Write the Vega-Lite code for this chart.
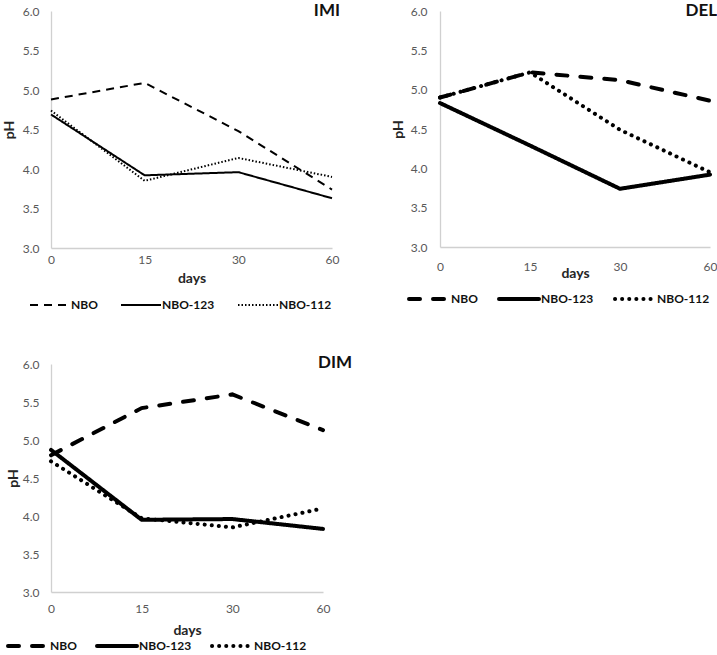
{
  "$schema": "https://vega.github.io/schema/vega-lite/v6.json",
  "padding": {"left": 2, "top": 2, "right": 0, "bottom": 0},
  "background": "white",
  "datasets": {
    "ph": [
      {"panel": "IMI", "series": "NBO", "day": 0, "pH": 4.88},
      {"panel": "IMI", "series": "NBO", "day": 15, "pH": 5.09},
      {"panel": "IMI", "series": "NBO", "day": 30, "pH": 4.48},
      {"panel": "IMI", "series": "NBO", "day": 60, "pH": 3.74},
      {"panel": "IMI", "series": "NBO-123", "day": 0, "pH": 4.69},
      {"panel": "IMI", "series": "NBO-123", "day": 15, "pH": 3.92},
      {"panel": "IMI", "series": "NBO-123", "day": 30, "pH": 3.96},
      {"panel": "IMI", "series": "NBO-123", "day": 60, "pH": 3.63},
      {"panel": "IMI", "series": "NBO-112", "day": 0, "pH": 4.74},
      {"panel": "IMI", "series": "NBO-112", "day": 15, "pH": 3.85},
      {"panel": "IMI", "series": "NBO-112", "day": 30, "pH": 4.14},
      {"panel": "IMI", "series": "NBO-112", "day": 60, "pH": 3.90},
      {"panel": "DEL", "series": "NBO", "day": 0, "pH": 4.90},
      {"panel": "DEL", "series": "NBO", "day": 15, "pH": 5.22},
      {"panel": "DEL", "series": "NBO", "day": 30, "pH": 5.12},
      {"panel": "DEL", "series": "NBO", "day": 60, "pH": 4.86},
      {"panel": "DEL", "series": "NBO-123", "day": 0, "pH": 4.83},
      {"panel": "DEL", "series": "NBO-123", "day": 15, "pH": 4.29},
      {"panel": "DEL", "series": "NBO-123", "day": 30, "pH": 3.74},
      {"panel": "DEL", "series": "NBO-123", "day": 60, "pH": 3.92},
      {"panel": "DEL", "series": "NBO-112", "day": 0, "pH": 4.90},
      {"panel": "DEL", "series": "NBO-112", "day": 15, "pH": 5.22},
      {"panel": "DEL", "series": "NBO-112", "day": 30, "pH": 4.49},
      {"panel": "DEL", "series": "NBO-112", "day": 60, "pH": 3.95},
      {"panel": "DIM", "series": "NBO", "day": 0, "pH": 4.80},
      {"panel": "DIM", "series": "NBO", "day": 15, "pH": 5.42},
      {"panel": "DIM", "series": "NBO", "day": 30, "pH": 5.60},
      {"panel": "DIM", "series": "NBO", "day": 60, "pH": 5.13},
      {"panel": "DIM", "series": "NBO-123", "day": 0, "pH": 4.87},
      {"panel": "DIM", "series": "NBO-123", "day": 15, "pH": 3.95},
      {"panel": "DIM", "series": "NBO-123", "day": 30, "pH": 3.96},
      {"panel": "DIM", "series": "NBO-123", "day": 60, "pH": 3.83},
      {"panel": "DIM", "series": "NBO-112", "day": 0, "pH": 4.72},
      {"panel": "DIM", "series": "NBO-112", "day": 15, "pH": 3.97},
      {"panel": "DIM", "series": "NBO-112", "day": 30, "pH": 3.85},
      {"panel": "DIM", "series": "NBO-112", "day": 60, "pH": 4.10}
    ]
  },
  "config": {
    "font": "Lato",
    "view": {"stroke": null},
    "axis": {
      "grid": false,
      "ticks": false,
      "domainColor": "#d0d0d0",
      "domainWidth": 1.3,
      "labelColor": "#595959",
      "labelFont": "Lato",
      "labelFontSize": 12,
      "titleFont": "Lato",
      "titleFontWeight": "bold",
      "titleFontSize": 14,
      "titleColor": "#262626"
    },
    "legend": {
      "labelFont": "Lato",
      "labelFontWeight": "bold",
      "labelFontSize": 12,
      "labelColor": "#111111",
      "symbolStrokeColor": "black",
      "layout": {"bottom": {"anchor": "end"}}
    },
    "title": {"font": "Lato", "fontSize": 17, "fontWeight": "bold", "color": "#111111", "anchor": "end", "frame": "group"}
  },
  "concat": [
    {
      "spacing": 51,
      "resolve": {"scale": {"strokeDash": "independent"}, "legend": {"strokeDash": "independent"}},
      "hconcat": [
        {
          "width": 281,
          "height": 237,
          "title": {"text": "IMI", "offset": -15, "dx": 8},
          "data": {"name": "ph"},
          "transform": [{"filter": "datum.panel === 'IMI'"}],
          "mark": {"type": "line", "strokeWidth": 2, "color": "black"},
          "encoding": {
            "x": {"field": "day", "type": "ordinal", "scale": {"type": "point", "padding": 0},
                  "axis": {"title": "days", "labelAngle": 0, "labelPadding": 6, "titlePadding": 6}},
            "y": {"field": "pH", "type": "quantitative", "scale": {"domain": [3, 6]},
                  "axis": {"values": [3, 3.5, 4, 4.5, 5, 5.5, 6], "format": ".1f", "labelPadding": 12, "titlePadding": 6}},
            "strokeDash": {"field": "series", "type": "nominal",
              "scale": {"domain": ["NBO", "NBO-123", "NBO-112"], "range": [[8, 6], [1, 0], [1.5, 2]]},
              "legend": {"title": null, "orient": "bottom", "direction": "horizontal", "symbolType": "stroke",
                         "symbolSize": 1600, "symbolStrokeWidth": 2, "columnPadding": 19, "labelOffset": 0, "offset": -1, "padding": 0}}
          }
        },
        {
          "width": 270,
          "height": 236,
          "title": {"text": "DEL", "offset": -15, "dx": 7},
          "data": {"name": "ph"},
          "transform": [{"filter": "datum.panel === 'DEL'"}],
          "mark": {"type": "line", "strokeWidth": 4, "color": "black", "strokeCap": "round"},
          "encoding": {
            "x": {"field": "day", "type": "ordinal", "scale": {"type": "point", "padding": 0},
                  "axis": {"title": "days", "labelAngle": 0, "labelPadding": 14, "titlePadding": -6}},
            "y": {"field": "pH", "type": "quantitative", "scale": {"domain": [3, 6]},
                  "axis": {"values": [3, 3.5, 4, 4.5, 5, 5.5, 6], "format": ".1f", "labelPadding": 13, "titlePadding": 5}},
            "strokeDash": {"field": "series", "type": "nominal",
              "scale": {"domain": ["NBO", "NBO-123", "NBO-112"], "range": [[11, 13], [1, 0], [0.1, 7]]},
              "legend": {"title": null, "orient": "bottom", "direction": "horizontal", "symbolType": "stroke",
                         "symbolSize": 1600, "symbolStrokeWidth": 4, "columnPadding": 13, "labelOffset": 0, "offset": -3, "padding": 0,
                         "encode": {"symbols": {"update": {"strokeCap": {"value": "round"}}}}}}
          }
        }
      ]
    },
    {
      "hconcat": [
        {
          "width": 272,
          "height": 228,
          "title": {"text": "DIM", "offset": -14, "dx": 29},
          "data": {"name": "ph"},
          "transform": [{"filter": "datum.panel === 'DIM'"}],
          "mark": {"type": "line", "strokeWidth": 4, "color": "black", "strokeCap": "round"},
          "encoding": {
            "x": {"field": "day", "type": "ordinal", "scale": {"type": "point", "padding": 0},
                  "axis": {"title": "days", "labelAngle": 0, "labelPadding": 11, "titlePadding": 9}},
            "y": {"field": "pH", "type": "quantitative", "scale": {"domain": [3, 6]},
                  "axis": {"values": [3, 3.5, 4, 4.5, 5, 5.5, 6], "format": ".1f", "labelPadding": 12, "titlePadding": 2}},
            "strokeDash": {"field": "series", "type": "nominal",
              "scale": {"domain": ["NBO", "NBO-123", "NBO-112"], "range": [[11, 13], [1, 0], [0.1, 7]]},
              "legend": {"title": null, "orient": "bottom", "direction": "horizontal", "symbolType": "stroke",
                         "symbolSize": 1600, "symbolStrokeWidth": 4, "columnPadding": 12, "labelOffset": 0, "offset": -13, "padding": 0,
                         "encode": {"symbols": {"update": {"strokeCap": {"value": "round"}}}}}}
          }
        }
      ]
    }
  ],
  "columns": 1,
  "align": "none",
  "spacing": 43,
  "resolve": {"scale": {"strokeDash": "independent"}, "legend": {"strokeDash": "independent"}}
}
